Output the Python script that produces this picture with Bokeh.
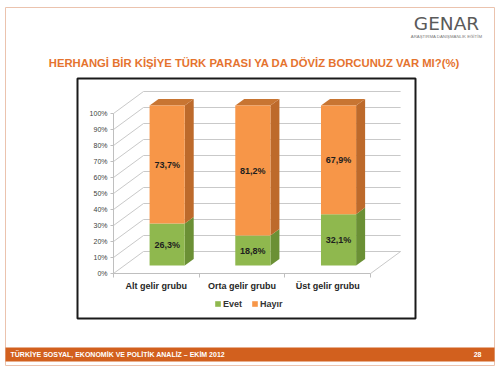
from bokeh.plotting import figure
from bokeh.models import (ColumnDataSource, Label, BoxAnnotation, Legend, LegendItem,
                          FixedTicker, PrintfTickFormatter, Range1d)
from bokeh.embed import file_html
from bokeh.resources import INLINE

# ---- data ----
categories = ["Alt gelir grubu", "Orta gelir grubu", "Üst gelir grubu"]
evet = [26.3, 18.8, 32.1]
hayir = [73.7, 81.2, 67.9]
y_ticks = [0, 10, 20, 30, 40, 50, 60, 70, 80, 90, 100]
title_text = "HERHANGİ BİR KİŞİYE TÜRK PARASI YA DA DÖVİZ BORCUNUZ VAR MI?(%)"
footer_text = "TÜRKİYE SOSYAL, EKONOMİK VE POLİTİK ANALİZ – EKİM 2012"
page_no = "28"
logo_text = "GENAR"
logo_sub = "ARAŞTIRMA DANIŞMANLIK EĞİTİM"

# ---- pseudo 3D geometry (data units) ----
DX, DY = 0.35, 13.75      # full depth offset of the 3D box
D0, DD = 0.36, 0.30       # bar front depth and bar depth (fraction of full depth)
HW = 0.205                # half bar width
n = len(categories)

W, H = 500, 372
p = figure(width=W, height=H, output_backend="svg", toolbar_location=None,
           x_range=Range1d(-113 / 85.7, (W - 113) / 85.7),
           y_range=Range1d(-(H - 273) / 1.6, 273 / 1.6),
           min_border=0, min_border_left=0, min_border_right=0,
           min_border_top=0, min_border_bottom=0)
p.title.visible = False
p.xgrid.visible = False
p.ygrid.visible = False
p.background_fill_color = "white"
p.border_fill_color = "white"
p.outline_line_color = None

def sy(y):  # screen y measured from the bottom
    return H - y

def box(l, r, t, b, **kw):
    p.add_layout(BoxAnnotation(left=l, right=r, top=sy(t), bottom=sy(b),
                               left_units="screen", right_units="screen",
                               top_units="screen", bottom_units="screen", **kw))

# slide border, footer bar, chart box
box(5, 494, 7, 365, fill_alpha=0, line_color="#EBC3AE", line_alpha=1, line_width=1)
box(5, 494, 347, 361, fill_color="#D2601E", fill_alpha=1, line_color=None)
box(77, 415, 78, 318, fill_alpha=0, line_color="#1a1a1a", line_alpha=1, line_width=2)

grid_col = "#C9C9C9"
# back wall gridlines
p.multi_line(xs=[[DX, n + DX] for v in y_ticks], ys=[[v + DY, v + DY] for v in y_ticks],
             line_color=grid_col, line_width=1)
# left wall diagonals
p.multi_line(xs=[[0, DX] for v in y_ticks], ys=[[v, v + DY] for v in y_ticks],
             line_color=grid_col, line_width=1)
# floor right edge
p.line(x=[n, n + DX], y=[0, DY], line_color=grid_col, line_width=1)

# bars
xc = [i + 0.5 + D0 * DX for i in range(n)]
yb = D0 * DY
g_src = ColumnDataSource(dict(left=[c - HW for c in xc], right=[c + HW for c in xc],
                              bottom=[yb] * n, top=[yb + e for e in evet]))
o_src = ColumnDataSource(dict(left=[c - HW for c in xc], right=[c + HW for c in xc],
                              bottom=[yb + e for e in evet], top=[yb + e + h for e, h in zip(evet, hayir)]))

def side(src):
    d = src.data
    xs, ys = [], []
    for l, r, b, t in zip(d["left"], d["right"], d["bottom"], d["top"]):
        xs.append([r, r + DD * DX, r + DD * DX, r])
        ys.append([b, b + DD * DY, t + DD * DY, t])
    return xs, ys

def topf(src):
    d = src.data
    xs, ys = [], []
    for l, r, b, t in zip(d["left"], d["right"], d["bottom"], d["top"]):
        xs.append([l, r, r + DD * DX, l + DD * DX])
        ys.append([t, t, t + DD * DY, t + DD * DY])
    return xs, ys

gx, gy = side(g_src)
p.patches(xs=gx, ys=gy, fill_color="#6B9035", line_color=None)
g_front = p.quad(left="left", right="right", bottom="bottom", top="top", source=g_src,
                 fill_color="#8FB84E", line_color=None)
ox, oy = side(o_src)
p.patches(xs=ox, ys=oy, fill_color="#BD6A2B", line_color=None)
tx, ty = topf(o_src)
p.patches(xs=tx, ys=ty, fill_color="#C87532", line_color=None)
o_front = p.quad(left="left", right="right", bottom="bottom", top="top", source=o_src,
                 fill_color="#F79648", line_color=None)

# value labels
lab_src = ColumnDataSource(dict(
    x=xc + xc,
    y=[yb + e / 2 for e in evet] + [yb + e + h / 2 for e, h in zip(evet, hayir)],
    t=[f"{v:.1f}%".replace(".", ",") for v in evet] + [f"{v:.1f}%".replace(".", ",") for v in hayir]))
p.text(x="x", y="y", text="t", source=lab_src, text_align="center", text_baseline="middle",
       text_font_size="9px", text_font_style="bold", text_color="#1E1E1E",
       text_font={"value": "Liberation Sans"})

# axes
ya = p.yaxis[0]
ya.fixed_location = 0
ya.ticker = FixedTicker(ticks=y_ticks)
ya.formatter = PrintfTickFormatter(format="%d%%")
ya.bounds = (0, 100)
ya.axis_line_color = "#BFBFBF"
ya.major_tick_line_color = "#BFBFBF"
ya.major_tick_out = 3
ya.major_tick_in = 0
ya.minor_tick_line_color = None
ya.major_label_standoff = 3
ya.major_label_text_font_size = "7px"
ya.major_label_text_color = "#404040"
ya.major_label_text_font = "Liberation Sans"

xa = p.xaxis[0]
xa.fixed_location = 0
xa.ticker = FixedTicker(ticks=[i + 0.5 for i in range(n)], minor_ticks=list(range(n + 1)))
xa.major_label_overrides = {i + 0.5: c for i, c in enumerate(categories)}
xa.bounds = (0, n)
xa.axis_line_color = "#BFBFBF"
xa.major_tick_line_color = None
xa.minor_tick_line_color = "#BFBFBF"
xa.minor_tick_out = 4
xa.minor_tick_in = 0
xa.major_label_standoff = 1
xa.major_label_text_font_size = "9px"
xa.major_label_text_font_style = "bold"
xa.major_label_text_color = "#262626"
xa.major_label_text_font = "Liberation Sans"

legend = Legend(items=[LegendItem(label="Evet", renderers=[g_front]),
                       LegendItem(label="Hayır", renderers=[o_front])],
                orientation="horizontal", location=(214, sy(308.5)),
                glyph_width=7, glyph_height=7, label_standoff=2, spacing=8,
                padding=2, margin=0, border_line_color=None, background_fill_alpha=0,
                label_text_font_size="9px", label_text_font_style="bold",
                label_text_color="#333333", label_text_font="Liberation Sans",
                label_height=9)
p.add_layout(legend)

# ---- slide texts (screen units) ----
def lab(x, y, text, **kw):
    p.add_layout(Label(x=x, y=sy(y), x_units="screen", y_units="screen", text=text,
                       text_baseline="middle", **kw))

lab(10, 354, footer_text, text_font_size="7px", text_font_style="bold",
    text_color="white", text_font="Liberation Sans")
lab(481, 354, page_no, text_font_size="7px", text_font_style="bold",
    text_color="white", text_align="right", text_font="Liberation Sans")
lab(254, 62, title_text, text_font_size="11.3px", text_font_style="bold",
    text_color="#E5732F", text_align="center", text_font="Liberation Sans")
lab(446, 23, logo_text, text_font_size="18.5px", text_color="#5A5A5A",
    text_align="center", text_font="DejaVu Sans")
lab(446, 36, logo_sub, text_font_size="4.3px", text_color="#7A7A7A",
    text_align="center", text_font="Liberation Sans")

open("out.html", "w").write(file_html(p, INLINE))
